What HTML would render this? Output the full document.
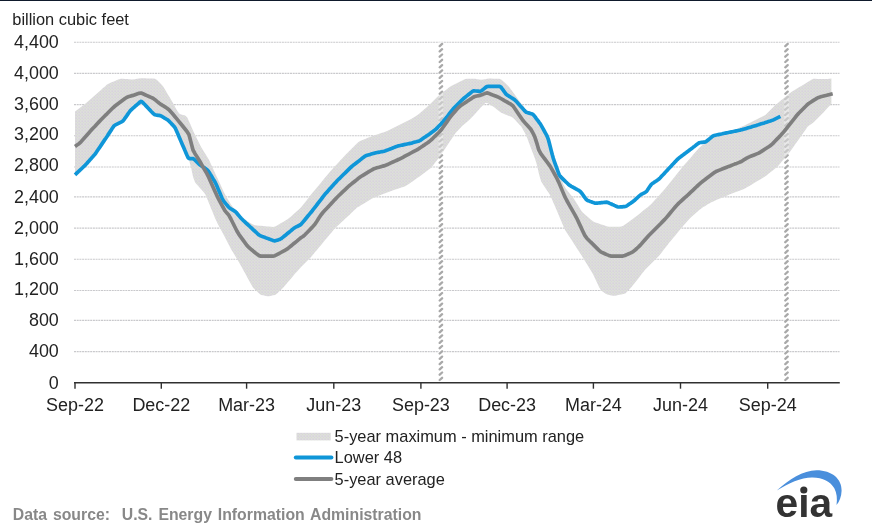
<!DOCTYPE html>
<html lang="en"><head><meta charset="utf-8"><title>Working gas in underground storage compared with the 5-year maximum and minimum</title>
<style>
html,body{margin:0;padding:0;background:#fff;}
body{width:872px;height:527px;overflow:hidden;position:relative;font-family:"Liberation Sans",Arial,sans-serif;}
svg{display:block;position:absolute;left:0;top:0;}
text{font-family:"Liberation Sans",Arial,sans-serif;}
.t{font-size:17.9px;fill:#222;}
.s{font-size:16.4px;fill:#222;}
.f{font-size:15.8px;font-weight:bold;fill:#888888;word-spacing:1.5px;}
</style></head><body>
<svg width="872" height="527" viewBox="0 0 872 527">
<rect x="0" y="0" width="872" height="527" fill="#fff"/>
<rect x="0" y="0" width="872" height="1" fill="#0f1a2c"/>

<line x1="74" y1="42.20" x2="839.5" y2="42.20" stroke="#c9c9cc" stroke-width="1.1" stroke-dasharray="2 0.7"/>
<line x1="74" y1="73.40" x2="839.5" y2="73.40" stroke="#c9c9cc" stroke-width="1.1" stroke-dasharray="2 0.7"/>
<line x1="74" y1="104.60" x2="839.5" y2="104.60" stroke="#c9c9cc" stroke-width="1.1" stroke-dasharray="2 0.7"/>
<line x1="74" y1="135.80" x2="839.5" y2="135.80" stroke="#c9c9cc" stroke-width="1.1" stroke-dasharray="2 0.7"/>
<line x1="74" y1="167.00" x2="839.5" y2="167.00" stroke="#c9c9cc" stroke-width="1.1" stroke-dasharray="2 0.7"/>
<line x1="74" y1="196.90" x2="839.5" y2="196.90" stroke="#c9c9cc" stroke-width="1.1" stroke-dasharray="2 0.7"/>
<line x1="74" y1="228.10" x2="839.5" y2="228.10" stroke="#c9c9cc" stroke-width="1.1" stroke-dasharray="2 0.7"/>
<line x1="74" y1="259.30" x2="839.5" y2="259.30" stroke="#c9c9cc" stroke-width="1.1" stroke-dasharray="2 0.7"/>
<line x1="74" y1="290.50" x2="839.5" y2="290.50" stroke="#c9c9cc" stroke-width="1.1" stroke-dasharray="2 0.7"/>
<line x1="74" y1="320.40" x2="839.5" y2="320.40" stroke="#c9c9cc" stroke-width="1.1" stroke-dasharray="2 0.7"/>
<line x1="74" y1="351.60" x2="839.5" y2="351.60" stroke="#c9c9cc" stroke-width="1.1" stroke-dasharray="2 0.7"/>
<defs><pattern id="dots" width="3" height="3" patternUnits="userSpaceOnUse"><rect width="3" height="3" fill="#dddedb"/><rect x="0.6" y="0.6" width="1.1" height="1.1" fill="#d3c8df"/><rect x="2.1" y="2.1" width="0.9" height="0.9" fill="#d6d9d2"/></pattern></defs>
<polygon points="75.0,111.6 77.0,110.1 79.0,108.5 81.0,107.0 83.0,105.4 85.0,103.9 87.0,102.3 89.0,100.5 91.0,98.7 93.0,97.0 95.0,95.2 97.0,93.4 99.0,91.7 101.0,89.9 103.0,88.1 105.0,86.4 107.0,84.6 109.0,83.4 111.0,82.6 113.0,81.7 115.0,80.9 117.0,80.1 119.0,79.2 121.0,78.7 123.0,78.8 125.0,78.9 127.0,79.1 129.0,79.2 131.0,79.4 133.0,79.4 135.0,79.2 137.0,78.8 139.0,78.5 141.0,78.2 143.0,78.3 145.0,78.3 147.0,78.4 149.0,78.4 151.0,78.5 153.0,78.5 155.0,78.7 157.0,79.9 159.0,82.0 161.0,84.1 163.0,86.3 165.0,89.4 167.0,92.9 169.0,96.3 171.1,99.8 173.1,103.3 175.1,106.9 177.1,110.4 179.1,113.5 181.1,114.4 183.1,114.9 185.1,115.5 187.1,117.3 189.1,121.6 191.1,126.1 193.1,130.7 195.1,134.9 197.1,138.9 199.1,142.9 201.1,146.9 203.1,150.3 205.1,153.6 207.1,156.8 209.1,160.1 211.1,164.4 213.1,168.8 215.1,173.2 217.1,177.5 219.1,181.8 221.1,186.1 223.1,190.4 225.1,194.4 227.1,198.0 229.1,201.5 231.1,204.8 233.1,207.3 235.1,209.8 237.1,212.3 239.1,214.7 241.1,217.0 243.1,218.6 245.1,219.8 247.1,221.0 249.1,222.2 251.1,223.4 253.1,224.5 255.1,225.3 257.1,225.5 259.1,225.7 261.1,225.8 263.1,226.0 265.1,226.2 267.1,226.4 269.1,226.6 271.1,226.8 273.1,227.0 275.1,226.6 277.1,225.5 279.1,224.3 281.1,223.1 283.1,222.0 285.1,220.8 287.1,219.6 289.1,218.1 291.1,216.4 293.1,214.6 295.1,212.8 297.1,211.0 299.1,209.2 301.1,207.2 303.1,204.8 305.1,202.2 307.1,199.7 309.1,197.1 311.1,194.6 313.1,192.1 315.1,189.7 317.1,187.3 319.1,184.9 321.1,182.5 323.1,180.1 325.1,177.6 327.1,175.2 329.1,172.8 331.1,170.5 333.1,168.2 335.1,166.1 337.1,163.9 339.1,161.7 341.1,159.6 343.1,157.4 345.1,155.3 347.1,153.3 349.1,151.3 351.1,149.3 353.1,147.3 355.1,145.3 357.1,143.3 359.2,141.5 361.2,140.5 363.2,139.7 365.2,138.9 367.2,138.1 369.2,137.3 371.2,136.5 373.2,135.7 375.2,135.0 377.2,134.4 379.2,133.7 381.2,133.0 383.2,132.4 385.2,131.7 387.2,130.9 389.2,129.9 391.2,128.9 393.2,127.9 395.2,126.9 397.2,125.9 399.2,124.9 401.2,123.9 403.2,122.9 405.2,121.9 407.2,120.9 409.2,119.9 411.2,118.9 413.2,117.7 415.2,116.5 417.2,115.3 419.2,113.8 421.2,112.0 423.2,110.2 425.2,108.4 427.2,106.7 429.2,104.9 431.2,102.9 433.2,100.9 435.2,98.9 437.2,96.9 439.2,95.2 441.2,93.6 443.2,92.0 445.2,90.5 447.2,88.9 449.2,87.3 451.2,86.0 453.2,85.0 455.2,84.0 457.2,83.0 459.2,82.0 461.2,81.0 463.2,80.0 465.2,79.1 467.2,78.8 469.2,78.8 471.2,78.8 473.2,78.8 475.2,78.8 477.2,79.2 479.2,79.6 481.2,79.8 483.2,79.5 485.2,79.2 487.2,78.8 489.2,78.6 491.2,78.6 493.2,78.7 495.2,78.7 497.2,78.7 499.2,78.8 501.2,79.5 503.2,81.3 505.2,83.1 507.2,84.9 509.2,87.0 511.2,89.7 513.2,92.5 515.2,95.2 517.2,98.0 519.2,100.8 521.2,103.6 523.2,106.5 525.2,109.3 527.2,110.8 529.2,111.4 531.2,112.0 533.2,113.1 535.2,115.6 537.2,118.2 539.2,120.9 541.2,123.9 543.2,127.5 545.2,131.2 547.2,135.0 549.3,141.3 551.3,149.1 553.3,156.5 555.3,162.4 557.3,168.2 559.3,173.8 561.3,179.1 563.3,184.2 565.3,187.8 567.3,190.4 569.3,192.9 571.3,195.4 573.3,197.9 575.3,200.9 577.3,204.2 579.3,207.6 581.3,210.8 583.3,213.0 585.3,214.8 587.3,216.5 589.3,218.3 591.3,220.1 593.3,221.6 595.3,222.4 597.3,223.0 599.3,223.7 601.3,224.4 603.3,225.1 605.3,225.7 607.3,226.4 609.3,226.7 611.3,226.7 613.3,226.7 615.3,226.7 617.3,226.7 619.3,226.7 621.3,226.6 623.3,225.8 625.3,224.3 627.3,222.9 629.3,221.4 631.3,219.9 633.3,218.5 635.3,217.0 637.3,215.5 639.3,213.9 641.3,212.2 643.3,210.6 645.3,209.0 647.3,207.4 649.3,205.7 651.3,203.9 653.3,201.8 655.3,199.6 657.3,197.4 659.3,195.2 661.3,193.0 663.3,190.7 665.3,188.4 667.3,185.9 669.3,183.5 671.3,181.0 673.3,178.6 675.3,176.1 677.3,173.6 679.3,171.1 681.3,168.6 683.3,166.1 685.3,163.8 687.3,161.5 689.3,159.2 691.3,156.9 693.3,154.6 695.3,152.3 697.3,150.0 699.3,147.7 701.3,145.9 703.3,144.4 705.3,143.1 707.3,141.7 709.3,140.3 711.3,138.9 713.3,137.6 715.3,136.9 717.3,136.2 719.3,135.5 721.3,134.9 723.3,134.2 725.3,133.5 727.3,132.8 729.3,132.1 731.3,131.2 733.3,130.3 735.3,129.5 737.4,128.6 739.4,127.8 741.4,126.8 743.4,125.9 745.4,124.9 747.4,123.9 749.4,122.9 751.4,122.0 753.4,121.0 755.4,120.0 757.4,119.0 759.4,118.0 761.4,117.1 763.4,116.1 765.4,114.9 767.4,113.0 769.4,111.0 771.4,109.0 773.4,107.0 775.4,105.1 777.4,103.4 779.4,101.7 781.4,100.0 783.4,98.4 785.4,96.7 787.4,95.0 789.4,93.4 791.4,91.9 793.4,90.7 795.4,89.5 797.4,88.3 799.4,87.1 801.4,85.9 803.4,84.7 805.4,83.5 807.4,82.2 809.4,81.0 811.4,79.7 813.4,78.8 815.4,78.7 817.4,78.9 819.4,79.0 821.4,79.1 823.4,79.1 825.4,79.0 827.4,78.9 829.4,78.7 831.4,78.6 831.4,103.8 829.4,106.0 827.4,108.1 825.4,110.3 823.4,112.4 821.4,114.5 819.4,116.5 817.4,118.5 815.4,120.5 813.4,122.5 811.4,123.9 809.4,125.2 807.4,127.1 805.4,129.9 803.4,132.8 801.4,135.6 799.4,138.5 797.4,141.3 795.4,144.1 793.4,147.0 791.4,149.8 789.4,152.4 787.4,154.8 785.4,157.3 783.4,159.7 781.4,162.1 779.4,164.5 777.4,166.7 775.4,168.3 773.4,169.9 771.4,171.5 769.4,173.1 767.4,174.7 765.4,176.2 763.4,177.5 761.4,178.7 759.4,179.9 757.4,181.1 755.4,182.3 753.4,183.5 751.4,184.7 749.4,185.9 747.4,187.0 745.4,188.2 743.4,189.2 741.4,190.0 739.4,190.7 737.4,191.5 735.3,192.2 733.3,193.0 731.3,193.8 729.3,194.6 727.3,195.4 725.3,196.2 723.3,197.1 721.3,197.9 719.3,198.8 717.3,199.6 715.3,200.5 713.3,201.4 711.3,202.3 709.3,203.4 707.3,204.6 705.3,205.9 703.3,207.1 701.3,208.4 699.3,209.9 697.3,211.7 695.3,213.5 693.3,215.2 691.3,217.0 689.3,219.0 687.3,221.3 685.3,223.6 683.3,225.8 681.3,228.1 679.3,230.6 677.3,233.0 675.3,235.4 673.3,237.8 671.3,240.2 669.3,242.6 667.3,245.2 665.3,247.7 663.3,250.3 661.3,252.9 659.3,255.4 657.3,257.6 655.3,259.5 653.3,261.5 651.3,263.5 649.3,265.4 647.3,267.4 645.3,269.6 643.3,272.1 641.3,274.6 639.3,277.2 637.3,279.7 635.3,282.2 633.3,284.8 631.3,287.2 629.3,289.4 627.3,291.6 625.3,293.4 623.3,293.9 621.3,294.4 619.3,294.8 617.3,295.2 615.3,295.7 613.3,295.7 611.3,295.4 609.3,295.0 607.3,294.6 605.3,293.5 603.3,292.1 601.3,290.7 599.3,287.6 597.3,283.2 595.3,278.9 593.3,274.7 591.3,271.2 589.3,267.9 587.3,264.7 585.3,261.4 583.3,258.2 581.3,255.0 579.3,252.0 577.3,248.9 575.3,245.8 573.3,242.7 571.3,239.6 569.3,236.6 567.3,233.5 565.3,230.4 563.3,225.9 561.3,221.2 559.3,216.5 557.3,211.8 555.3,207.1 553.3,202.5 551.3,197.8 549.3,193.8 547.2,190.8 545.2,187.7 543.2,184.7 541.2,181.6 539.2,175.0 537.2,165.9 535.2,159.3 533.2,154.1 531.2,148.8 529.2,143.4 527.2,137.9 525.2,133.5 523.2,129.9 521.2,126.6 519.2,124.4 517.2,122.2 515.2,120.0 513.2,117.9 511.2,116.7 509.2,115.9 507.2,115.2 505.2,114.4 503.2,113.6 501.2,112.7 499.2,111.2 497.2,109.7 495.2,108.1 493.2,106.6 491.2,105.4 489.2,104.2 487.2,103.0 485.2,103.0 483.2,105.0 481.2,107.1 479.2,109.3 477.2,111.5 475.2,113.7 473.2,115.9 471.2,118.1 469.2,119.9 467.2,121.7 465.2,123.4 463.2,125.1 461.2,127.1 459.2,129.2 457.2,131.2 455.2,133.5 453.2,136.4 451.2,139.4 449.2,142.4 447.2,145.4 445.2,148.5 443.2,151.6 441.2,154.7 439.2,157.4 437.2,160.0 435.2,162.6 433.2,165.2 431.2,167.7 429.2,169.3 427.2,170.8 425.2,172.3 423.2,173.7 421.2,175.2 419.2,176.7 417.2,178.1 415.2,179.5 413.2,181.0 411.2,182.3 409.2,183.7 407.2,185.0 405.2,186.2 403.2,186.9 401.2,187.5 399.2,188.2 397.2,188.9 395.2,189.6 393.2,190.3 391.2,191.0 389.2,191.8 387.2,192.5 385.2,193.3 383.2,194.0 381.2,194.8 379.2,195.5 377.2,196.3 375.2,197.1 373.2,197.9 371.2,199.0 369.2,200.3 367.2,201.5 365.2,202.7 363.2,203.9 361.2,205.1 359.2,206.4 357.1,207.6 355.1,209.4 353.1,211.3 351.1,213.3 349.1,215.2 347.1,217.0 345.1,218.8 343.1,220.7 341.1,222.5 339.1,224.4 337.1,226.2 335.1,228.1 333.1,230.5 331.1,232.9 329.1,235.3 327.1,237.7 325.1,240.1 323.1,242.5 321.1,244.9 319.1,247.3 317.1,249.7 315.1,252.1 313.1,254.5 311.1,256.9 309.1,259.1 307.1,261.1 305.1,263.1 303.1,265.1 301.1,267.1 299.1,269.2 297.1,271.4 295.1,273.6 293.1,276.0 291.1,278.4 289.1,280.8 287.1,283.1 285.1,285.5 283.1,287.8 281.1,289.8 279.1,291.6 277.1,293.5 275.1,294.9 273.1,295.3 271.1,295.8 269.1,296.2 267.1,296.2 265.1,295.8 263.1,295.3 261.1,294.9 259.1,293.5 257.1,291.6 255.1,289.8 253.1,287.7 251.1,284.3 249.1,280.7 247.1,277.0 245.1,273.3 243.1,269.7 241.1,266.0 239.1,262.4 237.1,258.9 235.1,255.7 233.1,252.5 231.1,249.2 229.1,245.3 227.1,241.4 225.1,237.6 223.1,233.8 221.1,230.1 219.1,226.4 217.1,222.6 215.1,218.2 213.1,213.3 211.1,208.4 209.1,203.6 207.1,198.6 205.1,193.9 203.1,191.5 201.1,189.3 199.1,187.0 197.1,184.8 195.1,182.6 193.1,177.0 191.1,167.8 189.1,160.5 187.1,155.5 185.1,150.8 183.1,146.2 181.1,141.6 179.1,136.9 177.1,132.3 175.1,127.8 173.1,125.4 171.1,123.3 169.0,121.2 167.0,119.6 165.0,118.4 163.0,117.1 161.0,115.9 159.0,115.4 157.0,115.2 155.0,114.8 153.0,113.3 151.0,111.2 149.0,109.0 147.0,106.9 145.0,104.8 143.0,102.7 141.0,101.4 139.0,102.9 137.0,104.7 135.0,106.4 133.0,108.2 131.0,110.0 129.0,112.5 127.0,115.4 125.0,118.2 123.0,120.9 121.0,122.1 119.0,123.1 117.0,124.1 115.0,125.1 113.0,127.3 111.0,130.4 109.0,133.4 107.0,136.5 105.0,139.4 103.0,142.4 101.0,145.4 99.0,148.3 97.0,151.3 95.0,154.2 93.0,156.5 91.0,158.7 89.0,160.9 87.0,163.2 85.0,165.4 83.0,167.3 81.0,169.2 79.0,171.0 77.0,172.9 75.0,174.8" fill="url(#dots)"/>
<rect x="438.79999999999995" y="42.5" width="4.2" height="339" fill="#fff"/>
<path d="M439.7,46.1L442.1,43.9M439.7,51.4L442.1,49.2M439.7,56.7L442.1,54.5M439.7,62.0L442.1,59.8M439.7,67.3L442.1,65.1M439.7,72.6L442.1,70.4M439.7,77.9L442.1,75.7M439.7,83.2L442.1,81.0M439.7,88.5L442.1,86.3M439.7,93.8L442.1,91.6M439.7,99.1L442.1,96.9M439.7,104.4L442.1,102.2M439.7,109.7L442.1,107.5M439.7,115.0L442.1,112.8M439.7,120.3L442.1,118.1M439.7,125.6L442.1,123.4M439.7,130.9L442.1,128.7M439.7,136.2L442.1,134.0M439.7,141.5L442.1,139.3M439.7,146.8L442.1,144.6M439.7,152.1L442.1,149.9M439.7,157.4L442.1,155.2M439.7,162.7L442.1,160.5M439.7,168.0L442.1,165.8M439.7,173.3L442.1,171.1M439.7,178.6L442.1,176.4M439.7,183.9L442.1,181.7M439.7,189.2L442.1,187.0M439.7,194.5L442.1,192.3M439.7,199.8L442.1,197.6M439.7,205.1L442.1,202.9M439.7,210.4L442.1,208.2M439.7,215.7L442.1,213.5M439.7,221.0L442.1,218.8M439.7,226.3L442.1,224.1M439.7,231.6L442.1,229.4M439.7,236.9L442.1,234.7M439.7,242.2L442.1,240.0M439.7,247.5L442.1,245.3M439.7,252.8L442.1,250.6M439.7,258.1L442.1,255.9M439.7,263.4L442.1,261.2M439.7,268.7L442.1,266.5M439.7,274.0L442.1,271.8M439.7,279.3L442.1,277.1M439.7,284.6L442.1,282.4M439.7,289.9L442.1,287.7M439.7,295.2L442.1,293.0M439.7,300.5L442.1,298.3M439.7,305.8L442.1,303.6M439.7,311.1L442.1,308.9M439.7,316.4L442.1,314.2M439.7,321.7L442.1,319.5M439.7,327.0L442.1,324.8M439.7,332.3L442.1,330.1M439.7,337.6L442.1,335.4M439.7,342.9L442.1,340.7M439.7,348.2L442.1,346.0M439.7,353.5L442.1,351.3M439.7,358.8L442.1,356.6M439.7,364.1L442.1,361.9M439.7,369.4L442.1,367.2M439.7,374.7L442.1,372.5M439.7,380.0L442.1,377.8" fill="none" stroke="#a9a9a9" stroke-width="2.3" stroke-linecap="round"/>
<rect x="784.4" y="42.5" width="4.2" height="339" fill="#fff"/>
<path d="M785.3,46.1L787.7,43.9M785.3,51.4L787.7,49.2M785.3,56.7L787.7,54.5M785.3,62.0L787.7,59.8M785.3,67.3L787.7,65.1M785.3,72.6L787.7,70.4M785.3,77.9L787.7,75.7M785.3,83.2L787.7,81.0M785.3,88.5L787.7,86.3M785.3,93.8L787.7,91.6M785.3,99.1L787.7,96.9M785.3,104.4L787.7,102.2M785.3,109.7L787.7,107.5M785.3,115.0L787.7,112.8M785.3,120.3L787.7,118.1M785.3,125.6L787.7,123.4M785.3,130.9L787.7,128.7M785.3,136.2L787.7,134.0M785.3,141.5L787.7,139.3M785.3,146.8L787.7,144.6M785.3,152.1L787.7,149.9M785.3,157.4L787.7,155.2M785.3,162.7L787.7,160.5M785.3,168.0L787.7,165.8M785.3,173.3L787.7,171.1M785.3,178.6L787.7,176.4M785.3,183.9L787.7,181.7M785.3,189.2L787.7,187.0M785.3,194.5L787.7,192.3M785.3,199.8L787.7,197.6M785.3,205.1L787.7,202.9M785.3,210.4L787.7,208.2M785.3,215.7L787.7,213.5M785.3,221.0L787.7,218.8M785.3,226.3L787.7,224.1M785.3,231.6L787.7,229.4M785.3,236.9L787.7,234.7M785.3,242.2L787.7,240.0M785.3,247.5L787.7,245.3M785.3,252.8L787.7,250.6M785.3,258.1L787.7,255.9M785.3,263.4L787.7,261.2M785.3,268.7L787.7,266.5M785.3,274.0L787.7,271.8M785.3,279.3L787.7,277.1M785.3,284.6L787.7,282.4M785.3,289.9L787.7,287.7M785.3,295.2L787.7,293.0M785.3,300.5L787.7,298.3M785.3,305.8L787.7,303.6M785.3,311.1L787.7,308.9M785.3,316.4L787.7,314.2M785.3,321.7L787.7,319.5M785.3,327.0L787.7,324.8M785.3,332.3L787.7,330.1M785.3,337.6L787.7,335.4M785.3,342.9L787.7,340.7M785.3,348.2L787.7,346.0M785.3,353.5L787.7,351.3M785.3,358.8L787.7,356.6M785.3,364.1L787.7,361.9M785.3,369.4L787.7,367.2M785.3,374.7L787.7,372.5M785.3,380.0L787.7,377.8" fill="none" stroke="#a9a9a9" stroke-width="2.3" stroke-linecap="round"/>
<clipPath id="vclip"><rect x="438.6" y="42" width="4.6" height="340"/><rect x="784.2" y="42" width="4.6" height="340"/></clipPath>
<polygon points="75.0,111.6 77.0,110.1 79.0,108.5 81.0,107.0 83.0,105.4 85.0,103.9 87.0,102.3 89.0,100.5 91.0,98.7 93.0,97.0 95.0,95.2 97.0,93.4 99.0,91.7 101.0,89.9 103.0,88.1 105.0,86.4 107.0,84.6 109.0,83.4 111.0,82.6 113.0,81.7 115.0,80.9 117.0,80.1 119.0,79.2 121.0,78.7 123.0,78.8 125.0,78.9 127.0,79.1 129.0,79.2 131.0,79.4 133.0,79.4 135.0,79.2 137.0,78.8 139.0,78.5 141.0,78.2 143.0,78.3 145.0,78.3 147.0,78.4 149.0,78.4 151.0,78.5 153.0,78.5 155.0,78.7 157.0,79.9 159.0,82.0 161.0,84.1 163.0,86.3 165.0,89.4 167.0,92.9 169.0,96.3 171.1,99.8 173.1,103.3 175.1,106.9 177.1,110.4 179.1,113.5 181.1,114.4 183.1,114.9 185.1,115.5 187.1,117.3 189.1,121.6 191.1,126.1 193.1,130.7 195.1,134.9 197.1,138.9 199.1,142.9 201.1,146.9 203.1,150.3 205.1,153.6 207.1,156.8 209.1,160.1 211.1,164.4 213.1,168.8 215.1,173.2 217.1,177.5 219.1,181.8 221.1,186.1 223.1,190.4 225.1,194.4 227.1,198.0 229.1,201.5 231.1,204.8 233.1,207.3 235.1,209.8 237.1,212.3 239.1,214.7 241.1,217.0 243.1,218.6 245.1,219.8 247.1,221.0 249.1,222.2 251.1,223.4 253.1,224.5 255.1,225.3 257.1,225.5 259.1,225.7 261.1,225.8 263.1,226.0 265.1,226.2 267.1,226.4 269.1,226.6 271.1,226.8 273.1,227.0 275.1,226.6 277.1,225.5 279.1,224.3 281.1,223.1 283.1,222.0 285.1,220.8 287.1,219.6 289.1,218.1 291.1,216.4 293.1,214.6 295.1,212.8 297.1,211.0 299.1,209.2 301.1,207.2 303.1,204.8 305.1,202.2 307.1,199.7 309.1,197.1 311.1,194.6 313.1,192.1 315.1,189.7 317.1,187.3 319.1,184.9 321.1,182.5 323.1,180.1 325.1,177.6 327.1,175.2 329.1,172.8 331.1,170.5 333.1,168.2 335.1,166.1 337.1,163.9 339.1,161.7 341.1,159.6 343.1,157.4 345.1,155.3 347.1,153.3 349.1,151.3 351.1,149.3 353.1,147.3 355.1,145.3 357.1,143.3 359.2,141.5 361.2,140.5 363.2,139.7 365.2,138.9 367.2,138.1 369.2,137.3 371.2,136.5 373.2,135.7 375.2,135.0 377.2,134.4 379.2,133.7 381.2,133.0 383.2,132.4 385.2,131.7 387.2,130.9 389.2,129.9 391.2,128.9 393.2,127.9 395.2,126.9 397.2,125.9 399.2,124.9 401.2,123.9 403.2,122.9 405.2,121.9 407.2,120.9 409.2,119.9 411.2,118.9 413.2,117.7 415.2,116.5 417.2,115.3 419.2,113.8 421.2,112.0 423.2,110.2 425.2,108.4 427.2,106.7 429.2,104.9 431.2,102.9 433.2,100.9 435.2,98.9 437.2,96.9 439.2,95.2 441.2,93.6 443.2,92.0 445.2,90.5 447.2,88.9 449.2,87.3 451.2,86.0 453.2,85.0 455.2,84.0 457.2,83.0 459.2,82.0 461.2,81.0 463.2,80.0 465.2,79.1 467.2,78.8 469.2,78.8 471.2,78.8 473.2,78.8 475.2,78.8 477.2,79.2 479.2,79.6 481.2,79.8 483.2,79.5 485.2,79.2 487.2,78.8 489.2,78.6 491.2,78.6 493.2,78.7 495.2,78.7 497.2,78.7 499.2,78.8 501.2,79.5 503.2,81.3 505.2,83.1 507.2,84.9 509.2,87.0 511.2,89.7 513.2,92.5 515.2,95.2 517.2,98.0 519.2,100.8 521.2,103.6 523.2,106.5 525.2,109.3 527.2,110.8 529.2,111.4 531.2,112.0 533.2,113.1 535.2,115.6 537.2,118.2 539.2,120.9 541.2,123.9 543.2,127.5 545.2,131.2 547.2,135.0 549.3,141.3 551.3,149.1 553.3,156.5 555.3,162.4 557.3,168.2 559.3,173.8 561.3,179.1 563.3,184.2 565.3,187.8 567.3,190.4 569.3,192.9 571.3,195.4 573.3,197.9 575.3,200.9 577.3,204.2 579.3,207.6 581.3,210.8 583.3,213.0 585.3,214.8 587.3,216.5 589.3,218.3 591.3,220.1 593.3,221.6 595.3,222.4 597.3,223.0 599.3,223.7 601.3,224.4 603.3,225.1 605.3,225.7 607.3,226.4 609.3,226.7 611.3,226.7 613.3,226.7 615.3,226.7 617.3,226.7 619.3,226.7 621.3,226.6 623.3,225.8 625.3,224.3 627.3,222.9 629.3,221.4 631.3,219.9 633.3,218.5 635.3,217.0 637.3,215.5 639.3,213.9 641.3,212.2 643.3,210.6 645.3,209.0 647.3,207.4 649.3,205.7 651.3,203.9 653.3,201.8 655.3,199.6 657.3,197.4 659.3,195.2 661.3,193.0 663.3,190.7 665.3,188.4 667.3,185.9 669.3,183.5 671.3,181.0 673.3,178.6 675.3,176.1 677.3,173.6 679.3,171.1 681.3,168.6 683.3,166.1 685.3,163.8 687.3,161.5 689.3,159.2 691.3,156.9 693.3,154.6 695.3,152.3 697.3,150.0 699.3,147.7 701.3,145.9 703.3,144.4 705.3,143.1 707.3,141.7 709.3,140.3 711.3,138.9 713.3,137.6 715.3,136.9 717.3,136.2 719.3,135.5 721.3,134.9 723.3,134.2 725.3,133.5 727.3,132.8 729.3,132.1 731.3,131.2 733.3,130.3 735.3,129.5 737.4,128.6 739.4,127.8 741.4,126.8 743.4,125.9 745.4,124.9 747.4,123.9 749.4,122.9 751.4,122.0 753.4,121.0 755.4,120.0 757.4,119.0 759.4,118.0 761.4,117.1 763.4,116.1 765.4,114.9 767.4,113.0 769.4,111.0 771.4,109.0 773.4,107.0 775.4,105.1 777.4,103.4 779.4,101.7 781.4,100.0 783.4,98.4 785.4,96.7 787.4,95.0 789.4,93.4 791.4,91.9 793.4,90.7 795.4,89.5 797.4,88.3 799.4,87.1 801.4,85.9 803.4,84.7 805.4,83.5 807.4,82.2 809.4,81.0 811.4,79.7 813.4,78.8 815.4,78.7 817.4,78.9 819.4,79.0 821.4,79.1 823.4,79.1 825.4,79.0 827.4,78.9 829.4,78.7 831.4,78.6 831.4,103.8 829.4,106.0 827.4,108.1 825.4,110.3 823.4,112.4 821.4,114.5 819.4,116.5 817.4,118.5 815.4,120.5 813.4,122.5 811.4,123.9 809.4,125.2 807.4,127.1 805.4,129.9 803.4,132.8 801.4,135.6 799.4,138.5 797.4,141.3 795.4,144.1 793.4,147.0 791.4,149.8 789.4,152.4 787.4,154.8 785.4,157.3 783.4,159.7 781.4,162.1 779.4,164.5 777.4,166.7 775.4,168.3 773.4,169.9 771.4,171.5 769.4,173.1 767.4,174.7 765.4,176.2 763.4,177.5 761.4,178.7 759.4,179.9 757.4,181.1 755.4,182.3 753.4,183.5 751.4,184.7 749.4,185.9 747.4,187.0 745.4,188.2 743.4,189.2 741.4,190.0 739.4,190.7 737.4,191.5 735.3,192.2 733.3,193.0 731.3,193.8 729.3,194.6 727.3,195.4 725.3,196.2 723.3,197.1 721.3,197.9 719.3,198.8 717.3,199.6 715.3,200.5 713.3,201.4 711.3,202.3 709.3,203.4 707.3,204.6 705.3,205.9 703.3,207.1 701.3,208.4 699.3,209.9 697.3,211.7 695.3,213.5 693.3,215.2 691.3,217.0 689.3,219.0 687.3,221.3 685.3,223.6 683.3,225.8 681.3,228.1 679.3,230.6 677.3,233.0 675.3,235.4 673.3,237.8 671.3,240.2 669.3,242.6 667.3,245.2 665.3,247.7 663.3,250.3 661.3,252.9 659.3,255.4 657.3,257.6 655.3,259.5 653.3,261.5 651.3,263.5 649.3,265.4 647.3,267.4 645.3,269.6 643.3,272.1 641.3,274.6 639.3,277.2 637.3,279.7 635.3,282.2 633.3,284.8 631.3,287.2 629.3,289.4 627.3,291.6 625.3,293.4 623.3,293.9 621.3,294.4 619.3,294.8 617.3,295.2 615.3,295.7 613.3,295.7 611.3,295.4 609.3,295.0 607.3,294.6 605.3,293.5 603.3,292.1 601.3,290.7 599.3,287.6 597.3,283.2 595.3,278.9 593.3,274.7 591.3,271.2 589.3,267.9 587.3,264.7 585.3,261.4 583.3,258.2 581.3,255.0 579.3,252.0 577.3,248.9 575.3,245.8 573.3,242.7 571.3,239.6 569.3,236.6 567.3,233.5 565.3,230.4 563.3,225.9 561.3,221.2 559.3,216.5 557.3,211.8 555.3,207.1 553.3,202.5 551.3,197.8 549.3,193.8 547.2,190.8 545.2,187.7 543.2,184.7 541.2,181.6 539.2,175.0 537.2,165.9 535.2,159.3 533.2,154.1 531.2,148.8 529.2,143.4 527.2,137.9 525.2,133.5 523.2,129.9 521.2,126.6 519.2,124.4 517.2,122.2 515.2,120.0 513.2,117.9 511.2,116.7 509.2,115.9 507.2,115.2 505.2,114.4 503.2,113.6 501.2,112.7 499.2,111.2 497.2,109.7 495.2,108.1 493.2,106.6 491.2,105.4 489.2,104.2 487.2,103.0 485.2,103.0 483.2,105.0 481.2,107.1 479.2,109.3 477.2,111.5 475.2,113.7 473.2,115.9 471.2,118.1 469.2,119.9 467.2,121.7 465.2,123.4 463.2,125.1 461.2,127.1 459.2,129.2 457.2,131.2 455.2,133.5 453.2,136.4 451.2,139.4 449.2,142.4 447.2,145.4 445.2,148.5 443.2,151.6 441.2,154.7 439.2,157.4 437.2,160.0 435.2,162.6 433.2,165.2 431.2,167.7 429.2,169.3 427.2,170.8 425.2,172.3 423.2,173.7 421.2,175.2 419.2,176.7 417.2,178.1 415.2,179.5 413.2,181.0 411.2,182.3 409.2,183.7 407.2,185.0 405.2,186.2 403.2,186.9 401.2,187.5 399.2,188.2 397.2,188.9 395.2,189.6 393.2,190.3 391.2,191.0 389.2,191.8 387.2,192.5 385.2,193.3 383.2,194.0 381.2,194.8 379.2,195.5 377.2,196.3 375.2,197.1 373.2,197.9 371.2,199.0 369.2,200.3 367.2,201.5 365.2,202.7 363.2,203.9 361.2,205.1 359.2,206.4 357.1,207.6 355.1,209.4 353.1,211.3 351.1,213.3 349.1,215.2 347.1,217.0 345.1,218.8 343.1,220.7 341.1,222.5 339.1,224.4 337.1,226.2 335.1,228.1 333.1,230.5 331.1,232.9 329.1,235.3 327.1,237.7 325.1,240.1 323.1,242.5 321.1,244.9 319.1,247.3 317.1,249.7 315.1,252.1 313.1,254.5 311.1,256.9 309.1,259.1 307.1,261.1 305.1,263.1 303.1,265.1 301.1,267.1 299.1,269.2 297.1,271.4 295.1,273.6 293.1,276.0 291.1,278.4 289.1,280.8 287.1,283.1 285.1,285.5 283.1,287.8 281.1,289.8 279.1,291.6 277.1,293.5 275.1,294.9 273.1,295.3 271.1,295.8 269.1,296.2 267.1,296.2 265.1,295.8 263.1,295.3 261.1,294.9 259.1,293.5 257.1,291.6 255.1,289.8 253.1,287.7 251.1,284.3 249.1,280.7 247.1,277.0 245.1,273.3 243.1,269.7 241.1,266.0 239.1,262.4 237.1,258.9 235.1,255.7 233.1,252.5 231.1,249.2 229.1,245.3 227.1,241.4 225.1,237.6 223.1,233.8 221.1,230.1 219.1,226.4 217.1,222.6 215.1,218.2 213.1,213.3 211.1,208.4 209.1,203.6 207.1,198.6 205.1,193.9 203.1,191.5 201.1,189.3 199.1,187.0 197.1,184.8 195.1,182.6 193.1,177.0 191.1,167.8 189.1,160.5 187.1,155.5 185.1,150.8 183.1,146.2 181.1,141.6 179.1,136.9 177.1,132.3 175.1,127.8 173.1,125.4 171.1,123.3 169.0,121.2 167.0,119.6 165.0,118.4 163.0,117.1 161.0,115.9 159.0,115.4 157.0,115.2 155.0,114.8 153.0,113.3 151.0,111.2 149.0,109.0 147.0,106.9 145.0,104.8 143.0,102.7 141.0,101.4 139.0,102.9 137.0,104.7 135.0,106.4 133.0,108.2 131.0,110.0 129.0,112.5 127.0,115.4 125.0,118.2 123.0,120.9 121.0,122.1 119.0,123.1 117.0,124.1 115.0,125.1 113.0,127.3 111.0,130.4 109.0,133.4 107.0,136.5 105.0,139.4 103.0,142.4 101.0,145.4 99.0,148.3 97.0,151.3 95.0,154.2 93.0,156.5 91.0,158.7 89.0,160.9 87.0,163.2 85.0,165.4 83.0,167.3 81.0,169.2 79.0,171.0 77.0,172.9 75.0,174.8" fill="#dcdcdc" fill-opacity="0.62" clip-path="url(#vclip)"/>
<polyline points="75.0,174.8 76.0,173.9 77.0,172.9 78.0,172.0 79.0,171.0 80.0,170.1 81.0,169.2 82.0,168.2 83.0,167.3 84.0,166.3 85.0,165.4 86.0,164.3 87.0,163.2 88.0,162.0 89.0,160.9 90.0,159.8 91.0,158.7 92.0,157.6 93.0,156.4 94.0,155.3 95.0,154.2 96.0,152.8 97.0,151.3 98.0,149.8 99.0,148.3 100.0,146.9 101.0,145.4 102.0,143.9 103.0,142.4 104.0,140.9 105.0,139.4 106.0,138.0 107.0,136.5 108.0,134.9 109.0,133.4 110.0,131.9 111.0,130.4 112.0,128.8 113.0,127.3 114.0,125.9 115.0,125.1 116.0,124.6 117.0,124.1 118.0,123.6 119.0,123.1 120.0,122.6 121.0,122.1 122.0,121.6 123.0,120.9 124.0,119.6 125.0,118.2 126.0,116.8 127.0,115.4 128.0,113.9 129.0,112.5 130.0,111.1 131.0,110.0 132.0,109.1 133.0,108.2 134.0,107.3 135.0,106.4 136.0,105.5 137.0,104.7 138.0,103.8 139.0,102.9 140.0,102.0 141.0,101.4 142.0,101.8 143.0,102.7 144.0,103.8 145.0,104.8 146.0,105.9 147.0,106.9 148.0,108.0 149.0,109.1 150.0,110.1 151.0,111.2 152.0,112.2 153.0,113.3 154.0,114.2 155.0,114.8 156.0,115.0 157.0,115.2 158.0,115.3 159.0,115.4 160.0,115.6 161.0,115.9 162.0,116.5 163.0,117.1 164.1,117.8 165.1,118.4 166.1,119.0 167.1,119.6 168.1,120.3 169.1,121.2 170.1,122.3 171.1,123.3 172.1,124.4 173.1,125.4 174.1,126.5 175.1,127.8 176.1,130.0 177.1,132.3 178.1,134.6 179.1,136.9 180.1,139.2 181.1,141.6 182.1,143.9 183.1,146.2 184.1,148.5 185.1,150.9 186.1,153.2 187.1,155.5 188.1,157.6 189.1,158.5 190.1,158.6 191.1,158.6 192.1,158.6 193.1,158.7 194.1,159.3 195.1,160.3 196.1,161.3 197.1,162.3 198.1,163.3 199.1,164.3 200.1,165.0 201.1,165.7 202.1,166.3 203.1,167.0 204.1,167.6 205.1,168.3 206.1,169.0 207.1,169.7 208.1,170.7 209.1,172.2 210.1,173.9 211.1,175.5 212.1,177.2 213.1,178.9 214.1,180.5 215.1,182.2 216.1,184.3 217.1,186.6 218.1,188.9 219.1,191.3 220.1,193.6 221.1,195.9 222.1,198.2 223.1,200.3 224.1,201.7 225.1,202.9 226.1,204.1 227.1,205.3 228.1,206.5 229.1,207.6 230.1,208.4 231.1,209.0 232.1,209.6 233.1,210.2 234.1,210.8 235.1,211.4 236.1,212.3 237.1,213.5 238.1,214.7 239.1,215.9 240.1,217.1 241.1,218.3 242.1,219.3 243.1,220.3 244.1,221.2 245.1,222.1 246.1,223.1 247.1,224.0 248.1,224.9 249.1,225.8 250.1,226.8 251.1,227.7 252.1,228.6 253.1,229.6 254.1,230.5 255.1,231.4 256.1,232.3 257.1,233.3 258.1,234.2 259.1,235.0 260.1,235.6 261.1,236.0 262.1,236.4 263.1,236.7 264.1,237.1 265.1,237.5 266.1,237.9 267.1,238.2 268.1,238.6 269.1,239.0 270.1,239.4 271.1,239.8 272.1,240.1 273.1,240.5 274.1,240.8 275.1,240.8 276.1,240.5 277.1,240.2 278.1,239.9 279.1,239.6 280.1,239.2 281.1,238.7 282.1,237.9 283.1,237.1 284.1,236.3 285.1,235.5 286.1,234.7 287.1,233.8 288.1,233.0 289.1,232.2 290.1,231.4 291.1,230.6 292.1,229.7 293.1,228.9 294.1,228.1 295.1,227.5 296.1,226.9 297.1,226.5 298.1,226.0 299.1,225.5 300.1,225.0 301.1,224.2 302.1,223.1 303.1,221.9 304.1,220.7 305.1,219.5 306.1,218.3 307.1,217.0 308.1,215.8 309.1,214.6 310.1,213.4 311.1,212.2 312.1,211.0 313.1,209.7 314.1,208.4 315.1,207.1 316.1,205.8 317.1,204.5 318.1,203.2 319.1,201.9 320.1,200.6 321.1,199.3 322.1,198.0 323.1,196.7 324.1,195.4 325.1,194.1 326.1,193.0 327.1,191.9 328.1,190.8 329.1,189.6 330.1,188.5 331.1,187.4 332.1,186.3 333.1,185.2 334.1,184.1 335.1,183.0 336.1,181.9 337.1,180.8 338.1,179.8 339.1,178.8 340.2,177.8 341.2,176.8 342.2,175.8 343.2,174.8 344.2,173.8 345.2,172.9 346.2,171.9 347.2,170.9 348.2,169.9 349.2,168.9 350.2,167.9 351.2,167.0 352.2,166.1 353.2,165.3 354.2,164.6 355.2,163.8 356.2,163.0 357.2,162.2 358.2,161.4 359.2,160.7 360.2,159.9 361.2,159.1 362.2,158.3 363.2,157.6 364.2,156.8 365.2,156.1 366.2,155.6 367.2,155.3 368.2,155.0 369.2,154.7 370.2,154.4 371.2,154.1 372.2,153.8 373.2,153.5 374.2,153.2 375.2,152.9 376.2,152.7 377.2,152.5 378.2,152.3 379.2,152.2 380.2,152.0 381.2,151.8 382.2,151.6 383.2,151.5 384.2,151.3 385.2,150.9 386.2,150.5 387.2,150.1 388.2,149.8 389.2,149.4 390.2,149.0 391.2,148.6 392.2,148.2 393.2,147.8 394.2,147.4 395.2,147.0 396.2,146.6 397.2,146.3 398.2,145.9 399.2,145.7 400.2,145.5 401.2,145.3 402.2,145.1 403.2,144.9 404.2,144.6 405.2,144.4 406.2,144.2 407.2,144.0 408.2,143.8 409.2,143.6 410.2,143.4 411.2,143.2 412.2,142.9 413.2,142.6 414.2,142.3 415.2,142.0 416.2,141.8 417.2,141.5 418.2,141.2 419.2,140.9 420.2,140.4 421.2,139.7 422.2,139.0 423.2,138.3 424.2,137.6 425.2,136.9 426.2,136.2 427.2,135.6 428.2,134.9 429.2,134.2 430.2,133.5 431.2,132.7 432.2,132.0 433.2,131.3 434.2,130.5 435.2,129.8 436.2,128.9 437.2,127.9 438.2,126.8 439.2,125.8 440.2,124.8 441.2,123.7 442.2,122.5 443.2,121.4 444.2,120.2 445.2,119.1 446.2,117.8 447.2,116.6 448.2,115.3 449.2,114.0 450.2,112.7 451.2,111.4 452.2,110.1 453.2,108.9 454.2,107.9 455.2,106.9 456.2,105.9 457.2,104.8 458.2,103.8 459.2,102.8 460.2,101.8 461.2,100.8 462.2,99.8 463.2,98.9 464.2,98.0 465.2,97.2 466.2,96.4 467.2,95.6 468.2,94.8 469.2,94.0 470.2,93.2 471.2,92.4 472.2,91.6 473.2,90.9 474.2,90.9 475.2,91.0 476.2,91.0 477.2,91.1 478.2,91.2 479.2,91.3 480.2,91.3 481.2,90.9 482.2,90.2 483.2,89.4 484.2,88.6 485.2,87.8 486.2,87.0 487.2,86.5 488.2,86.4 489.2,86.4 490.2,86.4 491.2,86.4 492.2,86.4 493.2,86.4 494.2,86.4 495.2,86.4 496.2,86.4 497.2,86.4 498.2,86.4 499.2,86.4 500.2,86.6 501.2,87.5 502.2,88.8 503.2,90.2 504.2,91.6 505.2,93.0 506.2,94.3 507.2,95.1 508.2,95.7 509.2,96.3 510.2,96.9 511.2,97.6 512.2,98.2 513.2,98.8 514.2,99.4 515.2,100.4 516.3,101.4 517.3,102.6 518.3,103.7 519.3,104.8 520.3,105.9 521.3,107.0 522.3,108.1 523.3,109.2 524.3,110.4 525.3,111.4 526.3,112.3 527.3,112.6 528.3,112.9 529.3,113.1 530.3,113.4 531.3,113.7 532.3,114.0 533.3,114.7 534.3,115.9 535.3,117.2 536.3,118.6 537.3,119.9 538.3,121.2 539.3,122.6 540.3,123.9 541.3,125.6 542.3,127.4 543.3,129.2 544.3,131.0 545.3,132.8 546.3,134.6 547.3,136.6 548.3,139.3 549.3,143.0 550.3,146.9 551.3,150.9 552.3,154.8 553.3,158.3 554.3,161.3 555.3,164.1 556.3,166.9 557.3,169.7 558.3,172.5 559.3,175.0 560.3,176.4 561.3,177.4 562.3,178.4 563.3,179.4 564.3,180.4 565.3,181.4 566.3,182.3 567.3,183.3 568.3,184.3 569.3,185.1 570.3,185.7 571.3,186.3 572.3,186.8 573.3,187.4 574.3,188.0 575.3,188.5 576.3,189.1 577.3,189.7 578.3,190.2 579.3,190.8 580.3,191.5 581.3,192.7 582.3,194.0 583.3,195.4 584.3,196.8 585.3,198.2 586.3,199.5 587.3,200.3 588.3,200.8 589.3,201.1 590.3,201.5 591.3,201.8 592.3,202.2 593.3,202.5 594.3,202.9 595.3,203.2 596.3,203.2 597.3,203.1 598.3,203.0 599.3,202.9 600.3,202.8 601.3,202.7 602.3,202.6 603.3,202.5 604.3,202.4 605.3,202.3 606.3,202.2 607.3,202.3 608.3,202.7 609.3,203.2 610.3,203.6 611.3,204.0 612.3,204.5 613.3,204.9 614.3,205.4 615.3,205.8 616.3,206.3 617.3,206.7 618.3,207.0 619.3,207.0 620.3,206.9 621.3,206.9 622.3,206.8 623.3,206.7 624.3,206.6 625.3,206.5 626.3,206.1 627.3,205.5 628.3,204.8 629.3,204.1 630.3,203.4 631.3,202.7 632.3,202.1 633.3,201.3 634.3,200.5 635.3,199.6 636.3,198.7 637.3,197.8 638.3,196.8 639.3,195.9 640.3,195.1 641.3,194.3 642.3,193.8 643.3,193.3 644.3,192.8 645.3,192.3 646.3,191.6 647.3,190.3 648.3,188.8 649.3,187.3 650.3,185.8 651.3,184.4 652.3,183.6 653.3,182.9 654.3,182.2 655.3,181.6 656.3,180.9 657.3,180.2 658.3,179.5 659.3,178.7 660.3,177.7 661.3,176.6 662.3,175.5 663.3,174.5 664.3,173.4 665.3,172.3 666.3,171.3 667.3,170.2 668.3,169.1 669.3,168.0 670.3,167.0 671.3,165.9 672.3,164.8 673.3,163.8 674.3,162.7 675.3,161.6 676.3,160.6 677.3,159.5 678.3,158.6 679.3,157.8 680.3,157.1 681.3,156.3 682.3,155.5 683.3,154.8 684.3,154.0 685.3,153.2 686.3,152.5 687.3,151.7 688.3,151.0 689.3,150.2 690.3,149.4 691.3,148.7 692.4,147.9 693.4,147.1 694.4,146.4 695.4,145.6 696.4,144.8 697.4,144.1 698.4,143.3 699.4,142.7 700.4,142.5 701.4,142.4 702.4,142.3 703.4,142.2 704.4,142.1 705.4,141.9 706.4,141.3 707.4,140.5 708.4,139.7 709.4,138.9 710.4,138.1 711.4,137.2 712.4,136.4 713.4,135.8 714.4,135.5 715.4,135.2 716.4,135.0 717.4,134.8 718.4,134.6 719.4,134.4 720.4,134.2 721.4,134.0 722.4,133.8 723.4,133.5 724.4,133.3 725.4,133.1 726.4,132.9 727.4,132.7 728.4,132.5 729.4,132.3 730.4,132.1 731.4,131.9 732.4,131.7 733.4,131.5 734.4,131.3 735.4,131.1 736.4,130.9 737.4,130.7 738.4,130.5 739.4,130.3 740.4,130.1 741.4,129.8 742.4,129.6 743.4,129.3 744.4,129.0 745.4,128.7 746.4,128.4 747.4,128.1 748.4,127.8 749.4,127.5 750.4,127.2 751.4,126.9 752.4,126.6 753.4,126.3 754.4,126.0 755.4,125.7 756.4,125.4 757.4,125.1 758.4,124.8 759.4,124.4 760.4,124.1 761.4,123.8 762.4,123.5 763.4,123.2 764.4,122.9 765.4,122.5 766.4,122.2 767.4,121.9 768.4,121.6 769.4,121.3 770.4,121.0 771.4,120.6 772.4,120.3 773.4,119.9 774.4,119.4 775.4,118.9 776.4,118.4 777.4,117.9 778.4,117.4 779.4,116.9 780.4,116.4" fill="none" stroke="#0f96d8" stroke-width="3.7" stroke-linejoin="round" stroke-linecap="butt"/>
<polyline points="75.0,146.4 77.0,145.0 79.0,143.7 81.0,141.8 83.0,139.6 85.0,137.3 87.0,135.0 89.0,132.7 91.0,130.4 93.0,128.3 95.0,126.2 97.0,124.0 99.0,121.9 101.0,119.8 103.0,117.7 105.0,115.7 107.0,113.8 109.0,111.8 111.0,109.8 113.0,107.8 115.0,106.0 117.0,104.5 119.0,103.0 121.0,101.5 123.0,100.0 125.0,98.5 127.0,97.2 129.0,96.5 131.0,95.9 133.0,95.4 135.0,94.7 137.0,94.0 139.0,93.3 141.0,93.0 143.0,93.8 145.0,94.7 147.0,95.6 149.0,96.5 151.0,97.4 153.0,98.3 155.0,99.7 157.0,101.4 159.0,103.0 161.0,104.4 163.0,105.7 165.0,106.9 167.0,108.2 169.0,109.8 171.0,112.0 173.0,114.3 175.0,116.7 177.0,119.1 179.0,121.6 181.0,124.0 183.0,126.5 185.0,129.0 187.0,131.5 189.0,134.8 191.0,142.4 193.0,150.0 195.0,153.7 197.0,156.8 199.0,160.0 201.0,163.3 202.9,166.8 204.9,170.2 206.9,173.7 208.9,177.7 210.9,182.2 212.9,186.7 214.9,191.2 216.9,195.6 218.9,199.7 220.9,203.4 222.9,207.0 224.9,210.6 226.9,213.1 228.9,215.3 230.9,219.0 232.9,223.0 234.9,227.0 236.9,231.0 238.9,234.3 240.9,237.1 242.9,239.9 244.9,242.6 246.9,245.4 248.9,247.5 250.9,249.2 252.9,250.8 254.9,252.5 256.9,254.1 258.9,255.6 260.9,256.1 262.9,256.1 264.9,256.1 266.9,256.1 268.9,256.1 270.9,256.1 272.9,256.1 274.9,255.7 276.9,254.7 278.9,253.6 280.9,252.5 282.9,251.4 284.9,250.3 286.9,249.2 288.9,247.6 290.9,246.0 292.9,244.3 294.9,242.7 296.9,241.1 298.9,239.4 300.9,237.8 302.9,236.5 304.9,234.8 306.9,232.8 308.9,230.7 310.9,228.6 312.9,226.5 314.9,224.3 316.9,221.3 318.9,218.1 320.9,215.0 322.9,212.5 324.9,210.3 326.9,208.2 328.9,206.1 330.9,203.9 332.9,201.8 334.9,199.6 336.9,197.5 338.9,195.5 340.9,193.6 342.9,191.7 344.9,189.8 346.9,187.9 348.9,186.0 350.9,184.4 352.9,182.8 354.9,181.2 356.9,179.6 358.9,177.9 360.9,176.5 362.9,175.3 364.9,174.1 366.9,172.9 368.9,171.7 370.9,170.5 372.9,169.3 374.9,168.4 376.9,167.8 378.9,167.3 380.9,166.7 382.9,166.1 384.9,165.6 386.9,164.8 388.9,163.9 390.9,162.9 392.9,162.0 394.9,161.1 396.9,160.2 398.9,159.3 400.9,158.3 402.9,157.3 404.9,156.2 406.9,155.1 408.9,154.1 410.9,153.0 412.9,151.9 414.9,150.8 416.9,149.8 418.9,148.6 420.9,147.3 422.9,145.9 424.9,144.6 426.9,143.2 428.9,141.9 430.9,140.2 432.9,138.3 434.9,136.3 436.9,134.4 438.9,132.5 440.9,130.3 442.9,127.5 444.9,124.6 446.9,121.8 448.9,118.9 450.9,116.2 452.9,113.9 454.8,111.7 456.8,109.4 458.8,107.2 460.8,105.6 462.8,104.2 464.8,102.9 466.8,101.6 468.8,100.2 470.8,98.9 472.8,97.5 474.8,96.5 476.8,96.0 478.8,95.6 480.8,95.1 482.8,94.4 484.8,93.6 486.8,92.9 488.8,93.4 490.8,94.2 492.8,95.0 494.8,95.7 496.8,96.5 498.8,97.4 500.8,98.5 502.8,99.6 504.8,100.8 506.8,101.9 508.8,103.1 510.8,104.2 512.8,105.7 514.8,108.5 516.8,111.5 518.8,114.5 520.8,117.4 522.8,120.3 524.8,122.6 526.8,124.8 528.8,127.0 530.8,129.3 532.8,132.7 534.8,136.9 536.8,143.1 538.8,149.9 540.8,153.7 542.8,156.4 544.8,159.0 546.8,161.7 548.8,164.4 550.8,167.3 552.8,170.9 554.8,174.5 556.8,178.2 558.8,182.4 560.8,187.1 562.8,191.9 564.8,196.6 566.8,200.5 568.8,204.1 570.8,207.6 572.8,211.1 574.8,214.6 576.8,218.3 578.8,222.6 580.8,226.9 582.8,231.2 584.8,235.4 586.8,238.2 588.8,240.2 590.8,242.2 592.8,244.1 594.8,246.1 596.8,248.1 598.8,250.1 600.8,251.8 602.8,252.8 604.8,253.7 606.8,254.6 608.8,255.4 610.8,256.1 612.8,256.2 614.8,256.2 616.8,256.2 618.8,256.2 620.8,256.2 622.8,256.1 624.8,255.5 626.8,254.6 628.8,253.7 630.8,252.9 632.8,251.9 634.8,250.3 636.8,248.5 638.8,246.6 640.8,244.6 642.8,242.3 644.8,240.0 646.8,237.7 648.8,235.5 650.8,233.5 652.8,231.5 654.8,229.5 656.8,227.5 658.8,225.5 660.8,223.5 662.8,221.4 664.8,219.4 666.8,217.1 668.8,214.7 670.8,212.3 672.8,209.9 674.8,207.5 676.8,205.2 678.8,203.1 680.8,201.3 682.8,199.5 684.8,197.7 686.8,196.0 688.8,194.1 690.8,192.2 692.8,190.3 694.8,188.4 696.8,186.5 698.8,184.7 700.8,182.9 702.8,181.3 704.8,179.8 706.7,178.3 708.7,176.8 710.7,175.3 712.7,173.8 714.7,172.3 716.7,171.2 718.7,170.4 720.7,169.6 722.7,168.8 724.7,168.0 726.7,167.2 728.7,166.4 730.7,165.7 732.7,164.9 734.7,164.1 736.7,163.4 738.7,162.6 740.7,161.8 742.7,160.6 744.7,159.3 746.7,158.1 748.7,157.1 750.7,156.3 752.7,155.5 754.7,154.7 756.7,153.9 758.7,153.1 760.7,151.9 762.7,150.6 764.7,149.3 766.7,148.0 768.7,146.7 770.7,145.4 772.7,143.6 774.7,141.5 776.7,139.4 778.7,137.4 780.7,135.3 782.7,133.1 784.7,130.7 786.7,128.2 788.7,125.6 790.7,123.1 792.7,120.6 794.7,118.1 796.7,115.5 798.7,113.2 800.7,111.2 802.7,109.2 804.7,107.2 806.7,105.2 808.7,103.5 810.7,102.2 812.7,100.9 814.7,99.7 816.7,98.4 818.7,97.4 820.7,96.8 822.7,96.3 824.7,95.8 826.7,95.3 828.7,94.7 830.7,94.2 832.7,93.7" fill="none" stroke="#7f7f7f" stroke-width="3.7" stroke-linejoin="round" stroke-linecap="butt"/>
<line x1="74" y1="382.8" x2="839.8" y2="382.8" stroke="#303030" stroke-width="1.6"/>
<line x1="75.0" y1="382" x2="75.0" y2="388.7" stroke="#303030" stroke-width="1.4"/>
<text class="t" style="font-size:17.95px" x="75.0" y="410.6" text-anchor="middle">Sep-22</text>
<line x1="161.3" y1="382" x2="161.3" y2="388.7" stroke="#303030" stroke-width="1.4"/>
<text class="t" style="font-size:17.95px" x="161.3" y="410.6" text-anchor="middle">Dec-22</text>
<line x1="246.6" y1="382" x2="246.6" y2="388.7" stroke="#303030" stroke-width="1.4"/>
<text class="t" style="font-size:17.95px" x="246.6" y="410.6" text-anchor="middle">Mar-23</text>
<line x1="333.8" y1="382" x2="333.8" y2="388.7" stroke="#303030" stroke-width="1.4"/>
<text class="t" style="font-size:17.95px" x="333.8" y="410.6" text-anchor="middle">Jun-23</text>
<line x1="420.9" y1="382" x2="420.9" y2="388.7" stroke="#303030" stroke-width="1.4"/>
<text class="t" style="font-size:17.95px" x="420.9" y="410.6" text-anchor="middle">Sep-23</text>
<line x1="507.1" y1="382" x2="507.1" y2="388.7" stroke="#303030" stroke-width="1.4"/>
<text class="t" style="font-size:17.95px" x="507.1" y="410.6" text-anchor="middle">Dec-23</text>
<line x1="593.4" y1="382" x2="593.4" y2="388.7" stroke="#303030" stroke-width="1.4"/>
<text class="t" style="font-size:17.95px" x="593.4" y="410.6" text-anchor="middle">Mar-24</text>
<line x1="680.5" y1="382" x2="680.5" y2="388.7" stroke="#303030" stroke-width="1.4"/>
<text class="t" style="font-size:17.95px" x="680.5" y="410.6" text-anchor="middle">Jun-24</text>
<line x1="767.7" y1="382" x2="767.7" y2="388.7" stroke="#303030" stroke-width="1.4"/>
<text class="t" style="font-size:17.95px" x="767.7" y="410.6" text-anchor="middle">Sep-24</text>
<text class="t" x="58.8" y="47.8" text-anchor="end">4,400</text>
<text class="t" x="58.8" y="79.0" text-anchor="end">4,000</text>
<text class="t" x="58.8" y="110.2" text-anchor="end">3,600</text>
<text class="t" x="58.8" y="140.1" text-anchor="end">3,200</text>
<text class="t" x="58.8" y="171.3" text-anchor="end">2,800</text>
<text class="t" x="58.8" y="202.5" text-anchor="end">2,400</text>
<text class="t" x="58.8" y="233.7" text-anchor="end">2,000</text>
<text class="t" x="58.8" y="264.9" text-anchor="end">1,600</text>
<text class="t" x="58.8" y="294.8" text-anchor="end">1,200</text>
<text class="t" x="58.8" y="326.0" text-anchor="end">800</text>
<text class="t" x="58.8" y="357.2" text-anchor="end">400</text>
<text class="t" x="58.8" y="389.1" text-anchor="end">0</text>
<text class="s" x="12.3" y="25.2">billion cubic feet</text>
<rect x="296.5" y="432.8" width="34.2" height="7.6" fill="url(#dots)"/>
<text class="s" x="334.6" y="442">5-year maximum - minimum range</text>
<line x1="295.8" y1="457.4" x2="331.4" y2="457.4" stroke="#0f96d8" stroke-width="4" stroke-linecap="round"/>
<text class="s" x="334.6" y="463.3">Lower 48</text>
<line x1="295.8" y1="479" x2="331.4" y2="479" stroke="#7f7f7f" stroke-width="4" stroke-linecap="round"/>
<text class="s" x="334.6" y="484.5">5-year average</text>
<text class="f" x="12.8" y="520.4" xml:space="preserve">Data source:  U.S. Energy Information Administration</text>
<path d="M776.8,490.6 C789,479.5 803,470.2 816.5,470.2 C832,470.2 842,479 841.6,490.8 C841.4,497 839.5,501.5 836.5,505 C837.5,499 836.8,493 834.3,488.3 C830.5,481.3 823,477.6 812.5,477.4 C801.5,477.2 788.5,483 776.8,490.6 Z" fill="#4a8fdc"/>
<text x="775.6" y="516.6" font-size="41" font-weight="bold" fill="#333" textLength="56.6" lengthAdjust="spacingAndGlyphs">eia</text>
<rect x="800" y="484.6" width="7.6" height="8.6" fill="#fff"/>
<circle cx="803.8" cy="490" r="3.6" fill="#333"/>
</svg></body></html>
